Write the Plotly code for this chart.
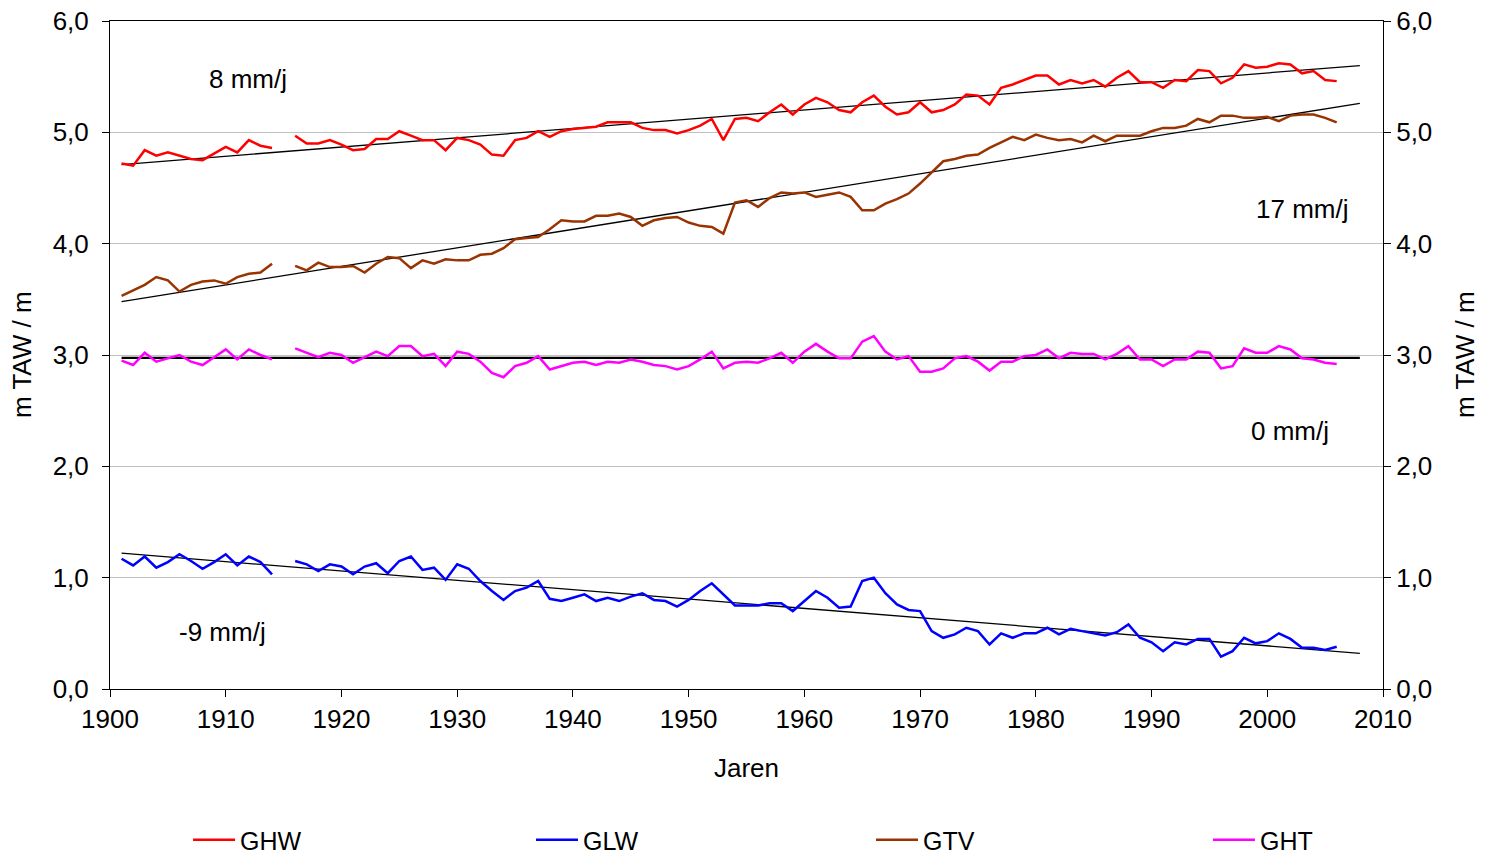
import plotly.graph_objects as go

years = list(range(1901, 2007))

ghw = [4.72, 4.70, 4.84, 4.79, 4.82, 4.79, 4.76, 4.75, 4.81, 4.87,
       4.82, 4.93, 4.88, 4.86, None,
       4.97, 4.90, 4.90, 4.93, 4.89, 4.84, 4.85, 4.94, 4.94, 5.01,
       4.97, 4.93, 4.93, 4.84, 4.95, 4.93, 4.89, 4.80, 4.79, 4.93,
       4.95, 5.01, 4.96, 5.01, 5.03, 5.04, 5.05, 5.09, 5.09, 5.09,
       5.04, 5.02, 5.02, 4.99, 5.02, 5.06, 5.12, 4.93, 5.12, 5.13,
       5.10, 5.18, 5.25, 5.16, 5.25, 5.31, 5.27, 5.20, 5.18, 5.27,
       5.33, 5.23, 5.16, 5.18, 5.27, 5.18, 5.20, 5.25, 5.34, 5.33,
       5.25, 5.40, 5.43, 5.47, 5.51, 5.51, 5.43, 5.47, 5.44, 5.47,
       5.41, 5.49, 5.55, 5.45, 5.45, 5.40, 5.47, 5.46, 5.56, 5.55,
       5.44, 5.49, 5.61, 5.58, 5.59, 5.62, 5.61, 5.53, 5.55, 5.47,
       5.46]

glw = [1.17, 1.11, 1.19, 1.09, 1.14, 1.21, 1.15, 1.08, 1.14, 1.21,
       1.11, 1.19, 1.14, 1.03, None,
       1.15, 1.12, 1.06, 1.12, 1.10, 1.03, 1.10, 1.13, 1.04, 1.15,
       1.19, 1.07, 1.09, 0.98, 1.12, 1.08, 0.97, 0.88, 0.80, 0.88,
       0.91, 0.97, 0.81, 0.79, 0.82, 0.85, 0.79, 0.82, 0.79, 0.83,
       0.86, 0.80, 0.79, 0.74, 0.80, 0.88, 0.95, 0.85, 0.75, 0.75,
       0.75, 0.77, 0.77, 0.70, 0.79, 0.88, 0.82, 0.73, 0.74, 0.97,
       1.00, 0.86, 0.76, 0.71, 0.70, 0.52, 0.46, 0.49, 0.55, 0.52,
       0.40, 0.50, 0.46, 0.50, 0.50, 0.55, 0.49, 0.54, 0.52, 0.50,
       0.48, 0.51, 0.58, 0.46, 0.42, 0.34, 0.42, 0.40, 0.45, 0.45,
       0.29, 0.34, 0.46, 0.41, 0.43, 0.50, 0.45, 0.37, 0.37, 0.35,
       0.38]

gtv = [3.53, 3.58, 3.63, 3.70, 3.67, 3.57, 3.63, 3.66, 3.67, 3.64,
       3.70, 3.73, 3.74, 3.82, None,
       3.80, 3.76, 3.83, 3.79, 3.79, 3.80, 3.74, 3.82, 3.88, 3.87,
       3.78, 3.85, 3.82, 3.86, 3.85, 3.85, 3.90, 3.91, 3.96, 4.04,
       4.05, 4.06, 4.13, 4.21, 4.20, 4.20, 4.25, 4.25, 4.27, 4.24,
       4.16, 4.21, 4.23, 4.24, 4.19, 4.16, 4.15, 4.09, 4.37, 4.39,
       4.33, 4.41, 4.46, 4.45, 4.46, 4.42, 4.44, 4.46, 4.42, 4.30,
       4.30, 4.36, 4.40, 4.45, 4.54, 4.64, 4.74, 4.76, 4.79, 4.80,
       4.86, 4.91, 4.96, 4.93, 4.98, 4.95, 4.93, 4.94, 4.91, 4.97,
       4.92, 4.97, 4.97, 4.97, 5.01, 5.04, 5.04, 5.06, 5.12, 5.09,
       5.15, 5.15, 5.13, 5.13, 5.14, 5.10, 5.15, 5.16, 5.16, 5.13,
       5.09]

ght = [2.95, 2.91, 3.02, 2.94, 2.97, 3.00, 2.94, 2.91, 2.98, 3.05,
       2.96, 3.05, 3.00, 2.96, None,
       3.06, 3.02, 2.98, 3.02, 3.00, 2.93, 2.98, 3.03, 2.99, 3.08,
       3.08, 2.99, 3.01, 2.90, 3.03, 3.01, 2.94, 2.84, 2.80, 2.90,
       2.93, 2.99, 2.87, 2.90, 2.93, 2.94, 2.91, 2.94, 2.93, 2.96,
       2.94, 2.91, 2.90, 2.87, 2.90, 2.96, 3.03, 2.88, 2.93, 2.94,
       2.93, 2.97, 3.02, 2.93, 3.03, 3.10, 3.03, 2.97, 2.97, 3.12,
       3.17, 3.03, 2.96, 2.99, 2.85, 2.85, 2.88, 2.97, 2.99, 2.94,
       2.86, 2.94, 2.94, 2.99, 3.00, 3.05, 2.97, 3.02, 3.01, 3.01,
       2.96, 3.01, 3.08, 2.96, 2.96, 2.90, 2.96, 2.96, 3.03, 3.02,
       2.88, 2.90, 3.06, 3.02, 3.02, 3.08, 3.05, 2.97, 2.96, 2.93,
       2.92]

trend_years = [1901, 2008]
ghw_trend = [4.71, 5.60]
gtv_trend = [3.48, 5.26]
ght_trend = [2.975, 2.975]
glw_trend = [1.22, 0.32]

trend_labels = ["8 mm/j", "17 mm/j", "0 mm/j", "-9 mm/j"]
trend_label_x = [1911.9, 2003.0, 2002.0, 1909.7]
trend_label_y = [5.48, 4.31, 2.32, 0.51]

y_ticks = [0, 1, 2, 3, 4, 5, 6]
y_ticktext = ["0,0", "1,0", "2,0", "3,0", "4,0", "5,0", "6,0"]
x_ticks = list(range(1900, 2011, 10))

FONT = "Liberation Sans, Arial, sans-serif"
FS = 26

fig = go.Figure()

# trend lines (drawn first, under data)
for tv, w in [(ghw_trend, 1.3), (gtv_trend, 1.3), (ght_trend, 2.2), (glw_trend, 1.3)]:
    fig.add_trace(go.Scatter(x=trend_years, y=tv, mode="lines",
                             line=dict(color="black", width=w),
                             showlegend=False, hoverinfo="skip"))

series = [("GHW", ghw, "#FF0000", "legend"),
          ("GLW", glw, "#0000FF", "legend2"),
          ("GTV", gtv, "#993300", "legend3"),
          ("GHT", ght, "#FF00FF", "legend4")]
for name, vals, col, lg in series:
    fig.add_trace(go.Scatter(x=years, y=vals, mode="lines", name=name,
                             line=dict(color=col, width=2.5),
                             connectgaps=False, legend=lg))

# invisible trace to activate right axis
fig.add_trace(go.Scatter(x=trend_years, y=ght_trend, yaxis="y2", mode="lines",
                         line=dict(color="rgba(0,0,0,0)", width=0),
                         showlegend=False, hoverinfo="skip"))

for t, tx, ty in zip(trend_labels, trend_label_x, trend_label_y):
    fig.add_annotation(x=tx, y=ty, text=t, showarrow=False,
                       font=dict(size=FS, color="black", family=FONT))

# axis titles
fig.add_annotation(xref="paper", yref="paper", x=0, y=0.5, xshift=-88,
                   xanchor="center", yanchor="middle",
                   text="m TAW / m", textangle=-90, showarrow=False,
                   font=dict(size=FS, color="black", family=FONT))
fig.add_annotation(xref="paper", yref="paper", x=1, y=0.5, xshift=82,
                   xanchor="center", yanchor="middle",
                   text="m TAW / m", textangle=-90, showarrow=False,
                   font=dict(size=FS, color="black", family=FONT))
fig.add_annotation(xref="paper", yref="paper", x=0.5, y=0, yshift=-79,
                   xanchor="center", yanchor="middle",
                   text="Jaren", showarrow=False,
                   font=dict(size=FS, color="black", family=FONT))

axis_common = dict(showline=True, linecolor="black", linewidth=1,
                   ticks="outside", ticklen=7, tickcolor="black",
                   automargin=False,
                   tickfont=dict(size=FS, color="black", family=FONT))

legend_x = [0.0613, 0.3307, 0.5978, 0.8625]
legend_keys = ["legend", "legend2", "legend3", "legend4"]
legends = {}
for k, lx in zip(legend_keys, legend_x):
    legends[k] = dict(orientation="h", x=lx, xanchor="left",
                      yref="container", y=1 - 840 / 853, yanchor="middle",
                      itemwidth=42,
                      font=dict(size=25, color="black", family=FONT),
                      bgcolor="rgba(0,0,0,0)")

fig.update_layout(
    width=1485, height=853,
    margin=dict(l=110, r=102, t=21, b=164, autoexpand=False),
    paper_bgcolor="white", plot_bgcolor="white",
    font=dict(family=FONT, color="black", size=FS),
    xaxis=dict(range=[1900, 2010], tickvals=x_ticks, showgrid=False,
               zeroline=False, mirror=True, **axis_common),
    yaxis=dict(range=[0, 6], tickvals=y_ticks, ticktext=y_ticktext,
               showgrid=True, gridcolor="#C0C0C0", gridwidth=1,
               zeroline=False, ticklabelstandoff=8, **axis_common),
    yaxis2=dict(range=[0, 6], tickvals=y_ticks, ticktext=y_ticktext,
                overlaying="y", side="right", showgrid=False,
                zeroline=False, **axis_common),
    showlegend=True,
    **legends,
)

fig.write_html("out.html")
